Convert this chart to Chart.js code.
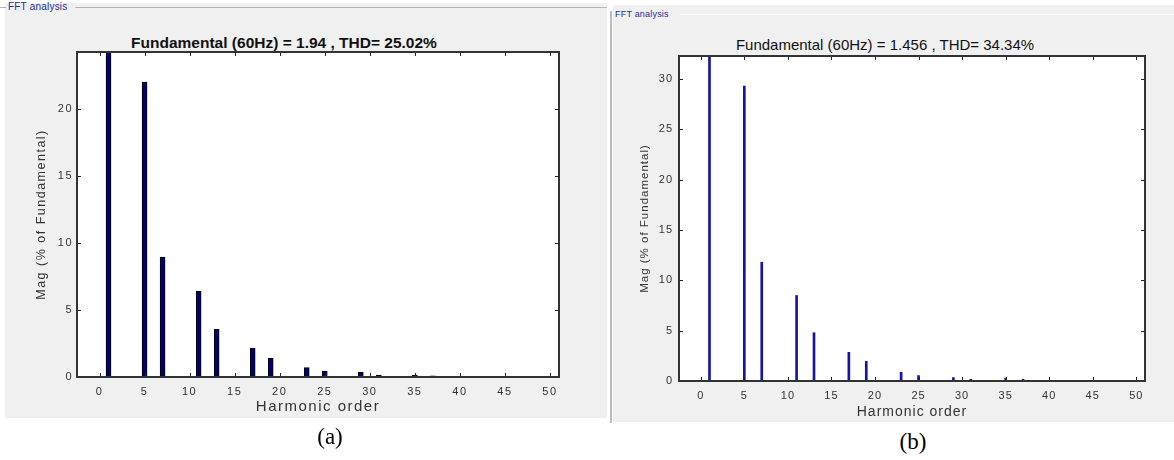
<!DOCTYPE html>
<html>
<head>
<meta charset="utf-8">
<script src="https://cdn.jsdelivr.net/npm/chart.js@4.4.1/dist/chart.umd.min.js"></script>
<style>
  body { margin: 0; background: #fff; width: 1174px; height: 460px; position: relative; overflow: hidden; font-family: "Liberation Sans", Arial, sans-serif; }
  .panel { position: absolute; background: #f0f0f0; }
  .grp { position: absolute; font-size: 10px; color: #1f2f9e; white-space: nowrap; line-height: 10px; letter-spacing: 0.2px; }
  .gline { position: absolute; height: 1px; background: #b4b4b4; }
  .ttl { position: absolute; white-space: nowrap; color: #111; transform: translateX(-50%); line-height: 18px; }
  .cap { position: absolute; font-family: "Liberation Serif", "Times New Roman", serif; font-size: 23px; color: #000; transform: translate(-50%, -50%); }
  canvas { position: absolute; top: 0; }
</style>
</head>
<body>
<div class="panel" style="left:5px;top:3px;width:602px;height:415px"></div>
<div class="panel" style="left:613px;top:5px;width:561px;height:417px"></div>
<div style="position:absolute;left:610px;top:11px;width:2px;height:412px;background:#bdbdbd"></div>

<div class="gline" style="left:0;top:7px;width:6px"></div>
<div class="grp" style="left:8px;top:2px">FFT analysis</div>
<div class="gline" style="left:75px;top:7px;width:532px"></div>
<div class="grp" style="left:615px;top:9px;font-size:9px">FFT analysis</div>
<div class="gline" style="left:680px;top:14px;width:494px;background:#fafafa"></div>

<div class="ttl" style="left:284px;top:34px;font-size:15.5px;font-weight:bold">Fundamental (60Hz) = 1.94 , THD= 25.02%</div>
<div class="ttl" style="left:885px;top:36px;font-size:15px">Fundamental (60Hz) = 1.456 , THD= 34.34%</div>

<canvas id="chartA" width="610" height="425" style="left:0"></canvas>
<canvas id="chartB" width="574" height="425" style="left:600px"></canvas>

<div class="cap" style="left:330px;top:437px">(a)</div>
<div class="cap" style="left:913px;top:442px">(b)</div>

<script>
// harmonic spectra (fundamental = 100 %, clipped by the axes)
const harmonics = [1, 5, 7, 11, 13, 17, 19, 23, 25, 29, 31, 35, 37, 47, 49];
const magA = [100, 22.0, 8.95, 6.4, 3.55, 2.15, 1.4, 0.7, 0.45, 0.35, 0.15, 0.15, 0.08, 0.05, 0.05];
const magB = [100, 29.3, 11.8, 8.5, 4.8, 2.85, 1.95, 0.87, 0.54, 0.34, 0.17, 0.3, 0.17, 0.04, 0.04];

const xLimits = [-2.5, 51];
const yMaxA = 24.25;
const yMaxB = 32.3;
const tickStep = 5;

const xTitle = 'Harmonic order';
const yTitle = 'Mag (% of Fundamental)';

// white axes box, black frame and inward ticks on all four sides, like matlab
const matlabAxes = {
    id: 'matlabAxes',
    beforeDraw(chart, args, opts) {
        // matlab text is drawn wide, spread the glyphs a bit
        chart.ctx.letterSpacing = opts.spacing || '0px';
    },
    beforeDatasetsDraw(chart) {
        const { ctx, chartArea: a } = chart;
        ctx.save();
        ctx.fillStyle = '#fff';
        ctx.fillRect(a.left, a.top, a.right - a.left, a.bottom - a.top);
        ctx.restore();
    },
    afterDatasetsDraw(chart, args, opts) {
        const { ctx, chartArea: a, scales: { x, y } } = chart;
        const len = opts.tickLen || 4;
        ctx.save();
        ctx.strokeStyle = opts.color || '#222';
        ctx.lineWidth = 1;
        ctx.beginPath();
        x.ticks.forEach(t => {
            const px = Math.round(x.getPixelForValue(t.value)) + 0.5;
            ctx.moveTo(px, a.bottom); ctx.lineTo(px, a.bottom - len);
            ctx.moveTo(px, a.top); ctx.lineTo(px, a.top + len);
        });
        y.ticks.forEach(t => {
            const py = Math.round(y.getPixelForValue(t.value)) + 0.5;
            ctx.moveTo(a.left, py); ctx.lineTo(a.left + len, py);
            ctx.moveTo(a.right, py); ctx.lineTo(a.right - len, py);
        });
        ctx.stroke();
        ctx.lineWidth = opts.boxWidth || 1.5;
        ctx.strokeStyle = '#333';
        ctx.strokeRect(a.left, a.top, a.right - a.left, a.bottom - a.top);
        ctx.restore();
    }
};

function makeFFTChart(id, values, cfg) {
    const pts = harmonics.map((h, i) => ({ x: h, y: values[i] }));
    return new Chart(document.getElementById(id), {
        type: 'bar',
        data: {
            datasets: [{
                data: pts,
                backgroundColor: cfg.barColor,
                borderColor: cfg.barBorder,
                borderWidth: cfg.barBorderWidth,
                barThickness: cfg.barWidth,
                clip: 0
            }]
        },
        plugins: [matlabAxes],
        options: {
            responsive: false,
            animation: false,
            devicePixelRatio: 1,
            layout: { padding: { top: cfg.top, right: cfg.right, bottom: 0, left: 0 } },
            plugins: {
                legend: { display: false },
                tooltip: { enabled: false },
                matlabAxes: { color: '#222', tickLen: 4, boxWidth: cfg.boxWidth, spacing: cfg.spacing }
            },
            scales: {
                x: {
                    type: 'linear',
                    offset: false,
                    min: xLimits[0],
                    max: xLimits[1],
                    grid: { display: false, drawTicks: false },
                    border: { display: false },
                    ticks: {
                        stepSize: tickStep,
                        includeBounds: false,
                        maxRotation: 0,
                        autoSkip: false,
                        padding: cfg.xTickPad,
                        color: '#333',
                        font: { family: 'Liberation Sans', size: 11 }
                    },
                    title: {
                        display: true,
                        text: xTitle,
                        color: '#333',
                        padding: { top: 0, bottom: cfg.xTitlePad },
                        font: { family: 'Liberation Sans', size: cfg.xTitleSize }
                    },
                    afterFit: s => { s.height = cfg.xHeight; }
                },
                y: {
                    min: 0,
                    max: cfg.yMax,
                    grid: { display: false, drawTicks: false },
                    border: { display: false },
                    ticks: {
                        stepSize: tickStep,
                        includeBounds: false,
                        padding: cfg.yTickPad,
                        color: '#333',
                        font: { family: 'Liberation Sans', size: 11 }
                    },
                    title: {
                        display: true,
                        text: yTitle,
                        color: '#333',
                        padding: { top: cfg.yTitlePad, bottom: 0 },
                        font: { family: 'Liberation Sans', size: cfg.yTitleSize }
                    },
                    afterFit: s => { s.width = cfg.yWidth; }
                }
            }
        }
    });
}

makeFFTChart('chartA', magA, {
    barColor: '#000070', barBorder: '#000', barBorderWidth: 1, barWidth: 5,
    yMax: yMaxA, top: 52, right: 51, xHeight: 48, yWidth: 77,
    xTickPad: 8, xTitlePad: 9, xTitleSize: 15, yTickPad: 4, yTitlePad: 34, yTitleSize: 12.5,
    boxWidth: 2, spacing: '1.5px'
});

makeFFTChart('chartB', magB, {
    barColor: '#1414a6', barBorder: '#1414a6', barBorderWidth: 0, barWidth: 2,
    yMax: yMaxB, top: 56, right: 29, xHeight: 44, yWidth: 79,
    xTickPad: 8, xTitlePad: 4, xTitleSize: 14, yTickPad: 6, yTitlePad: 38, yTitleSize: 11.5,
    boxWidth: 2, spacing: '1px'
});
</script>
</body>
</html>
